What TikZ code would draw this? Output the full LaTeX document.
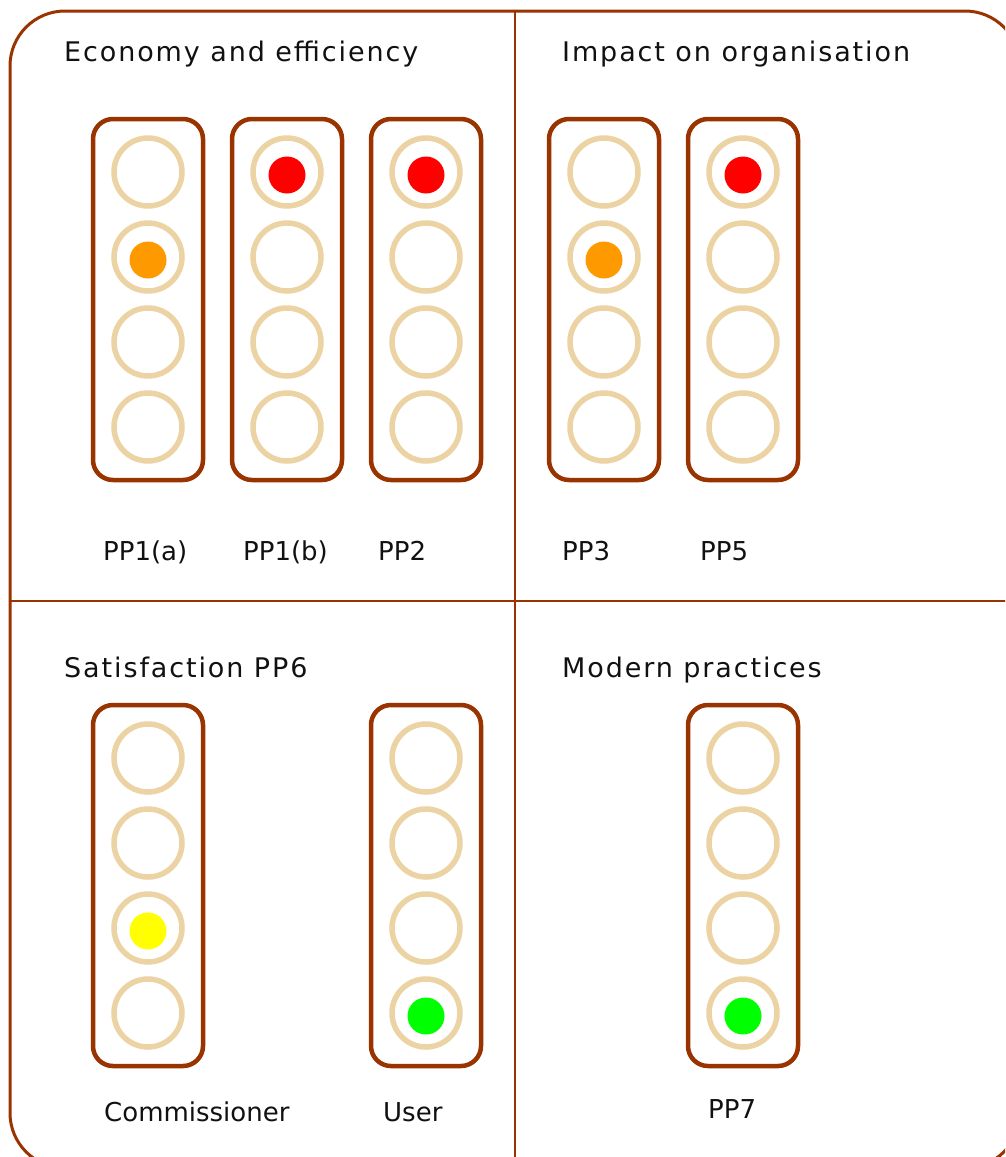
\documentclass[tikz,border=0pt]{standalone}
\usepackage{fontspec}
\setmainfont{DejaVu Sans}
\newfontfamily\headfont[LetterSpace=7]{DejaVu Sans}
\definecolor{brn}{HTML}{993300}
\definecolor{ringc}{HTML}{EBD3A3}
\definecolor{lred}{HTML}{FF0000}
\definecolor{lorange}{HTML}{FF9900}
\definecolor{lyellow}{HTML}{FFFF00}
\definecolor{lgreen}{HTML}{00FF00}
\definecolor{txt}{HTML}{111111}
\begin{document}
\begin{tikzpicture}[x=1pt,y=-1pt,
  lightbox/.style={draw=brn, line width=4.5pt, rounded corners=20pt, rectangle,
    minimum width=110pt, minimum height=361pt, inner sep=0pt, outer sep=0pt},
  lamp/.style={circle, draw=ringc, line width=5.5pt, minimum size=68pt, inner sep=0pt, outer sep=0pt},
  litdot/.style={circle, fill=#1, minimum size=37pt, inner sep=0pt, outer sep=0pt},
  head/.style={anchor=base west, text=txt, inner sep=0pt, font=\headfont\fontsize{27}{32}\selectfont},
  lbl/.style={anchor=base west, text=txt, inner sep=0pt, font=\fontsize{26}{32}\selectfont},
  divider/.style={draw=brn, line width=2.5pt}]
\useasboundingbox (0,0) rectangle (1005,1157);
\clip (0,0) rectangle (1005,1157);
% outer frame
\draw[brn, line width=3pt, rounded corners=55pt] (10,11) rectangle (1020,1168);
% dividers
\coordinate (vtop) at (515,11);
\coordinate (vbot) at (515,1160);
\coordinate (hl) at (10,601);
\coordinate (hr) at (1010,601);
\draw[divider] (vtop) -- (vbot);
\draw[divider] (hl) -- (hr);
% traffic lights
\foreach \n/\cx/\cy/\lit/\col in {a/148/299.5/2/lorange, b/287/299.5/1/lred, c/426/299.5/1/lred,
    d/604/299.5/2/lorange, e/743/299.5/1/lred, f/148/885.5/3/lyellow, g/426/885.5/4/lgreen,
    h/743/885.5/4/lgreen} {
  \node[lightbox] (box\n) at (\cx,\cy) {};
  \foreach \k in {1,...,4} {
    \node[lamp] (lamp\n\k) at (\cx,\cy+85*\k-212.5) {};
  }
  \node[litdot=\col] (dot\n) at ([yshift=-3pt]lamp\n\lit.center) {};
}
% headings
\node[head] (h1) at (64,61) {Economy and efficiency};
\node[head] (h2) at (562,61) {Impact on organisation};
\node[head] (h3) at (64,677) {Satisfaction PP6};
\node[head] (h4) at (562,677) {Modern practices};
% labels
\node[lbl] (l1) at (103,560) {PP1(a)};
\node[lbl] (l2) at (243,560) {PP1(b)};
\node[lbl] (l3) at (378,560) {PP2};
\node[lbl] (l4) at (562,560) {PP3};
\node[lbl] (l5) at (700,560) {PP5};
\node[lbl] (l6) at (104,1121) {Commissioner};
\node[lbl] (l7) at (383,1121) {User};
\node[lbl] (l8) at (708,1118) {PP7};
\end{tikzpicture}
\end{document}
